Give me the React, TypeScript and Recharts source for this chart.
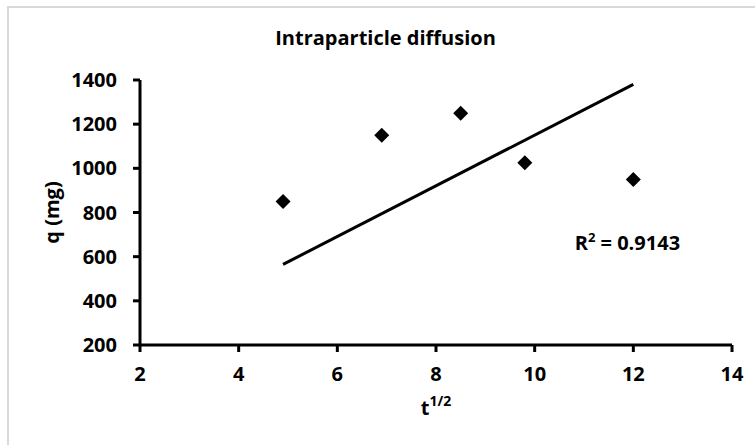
import { ComposedChart, Scatter, XAxis, YAxis, ReferenceLine, ReferenceDot, Label } from "recharts";

// sqrt(t) readings and adsorbed amount q (mg)
const tValues = [4.9, 6.9, 8.5, 9.8, 12];
const qValues = [850, 1150, 1250, 1025, 950];

// linear trendline endpoints, as drawn in the source chart
const trendStart = { x: 4.9, y: 565 };
const trendEnd = { x: 12, y: 1380 };

const xTicks = [2, 4, 6, 8, 10, 12, 14];
const yTicks = [200, 400, 600, 800, 1000, 1200, 1400];

const rSquared = "0.9143";
const rSquaredAt = { x: 11.88, y: 664 };

const points = tValues.map((t, i) => ({ t, q: qValues[i] }));

const FONT = "'Open Sans', 'DejaVu Sans', sans-serif";
const tickStyle = { fill: "#000", fontSize: 20, fontWeight: 700, fontFamily: FONT };

const Diamond = (props: any) => {
  const { cx, cy } = props;
  if (cx == null || cy == null) return null;
  const s = 7.5;
  return <path d={`M${cx},${cy - s}L${cx + s},${cy}L${cx},${cy + s}L${cx - s},${cy}Z`} fill="#000" />;
};

const XTitle = ({ viewBox }: any) => {
  const cx = viewBox.x + viewBox.width / 2;
  const y = viewBox.y + 70;
  return (
    <text x={cx} y={y} textAnchor="middle" fill="#000" fontFamily={FONT} fontWeight={700} fontSize={20}>
      t
      <tspan dy={-9} fontSize={14}>
        1/2
      </tspan>
    </text>
  );
};

const YTitle = ({ viewBox }: any) => {
  const x = viewBox.x + 59;
  const y = viewBox.y + viewBox.height / 2;
  return (
    <text
      x={x}
      y={y}
      transform={`rotate(-90, ${x}, ${y})`}
      textAnchor="middle"
      fill="#000"
      fontFamily={FONT}
      fontWeight={700}
      fontSize={20}
    >
      q (mg)
    </text>
  );
};

const RSquaredLabel = ({ viewBox }: any) => (
  <text
    x={viewBox.x + viewBox.width / 2}
    y={viewBox.y + viewBox.height / 2 + 7}
    textAnchor="middle"
    fill="#000"
    fontFamily={FONT}
    fontWeight={700}
    fontSize={20}
  >
    R
    <tspan dy={-8} fontSize={13}>
      2
    </tspan>
    <tspan dy={8}>{` = ${rSquared}`}</tspan>
  </text>
);

export default function App() {
  return (
    <div style={{ position: "absolute", left: 0, top: 0, width: 755, height: 445, overflow: "hidden", background: "#fff" }}>
      <div
        style={{
          position: "absolute",
          left: 7,
          top: 6,
          width: 800,
          height: 500,
          border: "2px solid #d9d9d9",
          boxSizing: "border-box",
        }}
      />
      <div
        style={{
          position: "absolute",
          left: 0,
          top: 28,
          width: 771,
          textAlign: "center",
          fontFamily: FONT,
          fontWeight: 700,
          fontSize: 20,
          lineHeight: "20px",
          color: "#000",
        }}
      >
        Intraparticle diffusion
      </div>
      <div style={{ position: "absolute", left: 0, top: 0 }}>
        <ComposedChart width={755} height={445} margin={{ top: 80, right: 23, bottom: 0, left: 0 }}>
          <XAxis
            type="number"
            dataKey="t"
            domain={[2, 14]}
            ticks={xTicks}
            interval={0}
            height={100}
            axisLine={{ stroke: "#000", strokeWidth: 3 }}
            tickLine={{ stroke: "#000", strokeWidth: 3 }}
            tickSize={7}
            tickMargin={15}
            tick={tickStyle}
          >
            <Label content={<XTitle />} />
          </XAxis>
          <YAxis
            type="number"
            dataKey="q"
            domain={[200, 1400]}
            ticks={yTicks}
            interval={0}
            width={140}
            axisLine={{ stroke: "#000", strokeWidth: 3 }}
            tickLine={{ stroke: "#000", strokeWidth: 3 }}
            tickSize={7}
            tickMargin={16}
            tick={tickStyle}
          >
            <Label content={<YTitle />} />
          </YAxis>
          <ReferenceLine
            segment={[trendStart, trendEnd]}
            stroke="#000"
            strokeWidth={3}
            ifOverflow="visible"
          />
          <Scatter data={points} shape={<Diamond />} isAnimationActive={false} />
          <ReferenceDot
            x={rSquaredAt.x}
            y={rSquaredAt.y}
            r={0}
            fill="none"
            stroke="none"
            ifOverflow="visible"
            label={<RSquaredLabel />}
          />
        </ComposedChart>
      </div>
    </div>
  );
}
